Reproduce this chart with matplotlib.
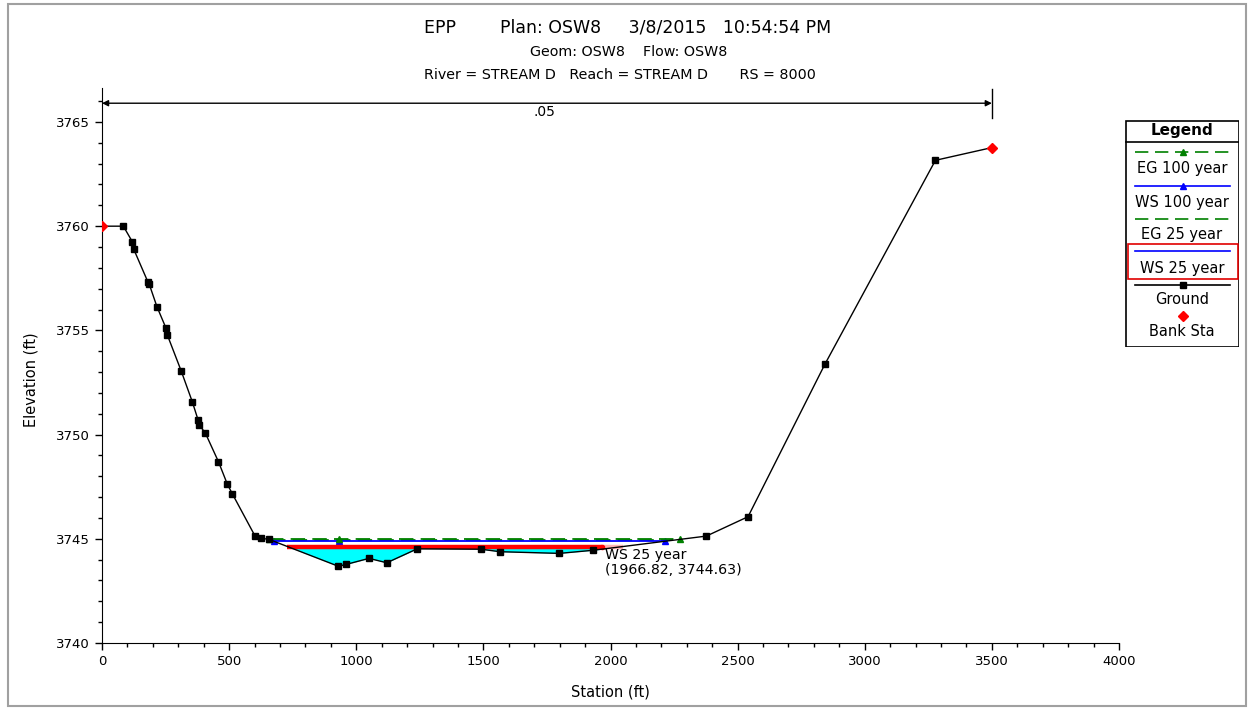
import numpy as np
import matplotlib.pyplot as plt
from matplotlib.ticker import MultipleLocator
from matplotlib.patches import Rectangle
from matplotlib.lines import Line2D

plt.rcParams['font.family'] = ['DejaVu Sans']

# Ground cross section (station ft, elevation ft)
station = [0, 84, 119, 125, 180, 186, 216, 252, 257, 311, 355, 378, 383, 407,
           458, 493, 513, 602, 625, 655, 930, 960, 1050, 1120, 1240, 1490,
           1566, 1799, 1932, 2377, 2541, 2843, 3278, 3500]
elevation = [3760.0, 3760.0, 3759.26, 3758.89, 3757.34, 3757.21, 3756.14,
             3755.10, 3754.78, 3753.07, 3751.58, 3750.70, 3750.46, 3750.06,
             3748.70, 3747.62, 3747.15, 3745.13, 3745.02, 3744.98, 3743.68,
             3743.77, 3744.06, 3743.85, 3744.52, 3744.50, 3744.38, 3744.30,
             3744.45, 3745.13, 3746.06, 3753.37, 3763.16, 3763.77]

bank_sta = [0, 3500]
bank_elev = [3760.0, 3763.77]

# water surfaces
eg_100 = 3744.97
ws_100 = 3744.88
eg_25 = 3744.93
ws_25 = 3744.63
cursor = (1966.82, 3744.63)
n_value = ".05"

sta = np.array(station, float)
elv = np.array(elevation, float)


def wet_extent(level):
    idx = np.where(elv < level)[0]
    i0, i1 = idx[0], idx[-1]
    xl = np.interp(level, [elv[i0], elv[i0 - 1]], [sta[i0], sta[i0 - 1]])
    xr = np.interp(level, [elv[i1], elv[i1 + 1]], [sta[i1], sta[i1 + 1]])
    return xl, xr


W, H = 1251, 710
fig = plt.figure(figsize=(W / 100, H / 100), dpi=100)
ax = fig.add_axes([102 / W, (H - 643) / H, (1119 - 102) / W, (643 - 88) / H])

# filled water for WS 25 year
xl, xr = wet_extent(ws_25)
xx = np.linspace(xl, xr, 600)
gz = np.interp(xx, sta, elv)
ax.fill_between(xx, gz, ws_25, where=gz < ws_25, color='#00ffff', lw=0, zorder=1)

# EG / WS lines
a, b = wet_extent(eg_25)
ax.plot([a, b], [eg_25, eg_25], color='#008000', lw=1.3, dashes=(8, 4), zorder=2)
a, b = wet_extent(ws_100)
ax.plot([a, b], [ws_100, ws_100], color='#0000ff', lw=1.3, zorder=3)
ax.plot([a, 933, b], [ws_100] * 3, ls='none', marker='^', color='#0000ff', ms=4.5, zorder=3)
a, b = wet_extent(eg_100)
ax.plot([a, b], [eg_100, eg_100], color='#008000', lw=1.3, dashes=(8, 4), zorder=4)
ax.plot([a, 933, b], [eg_100] * 3, ls='none', marker='^', color='#008000', ms=5, zorder=4)

# selected WS 25 year (highlighted)
ax.plot([xl, cursor[0]], [ws_25, ws_25], color='#ff0000', lw=3.2, solid_capstyle='butt', zorder=5)
ax.plot([cursor[0], xr], [ws_25, ws_25], color='#ffb4b4', lw=3.2, solid_capstyle='butt', zorder=5)
ax.plot([cursor[0]], [cursor[1]], 'o', color='#ff0000', ms=3, zorder=6)

# ground (bank points get the red marker instead)
not_bank = [i for i, s in enumerate(station) if s not in bank_sta]
ax.plot(sta, elv, color='black', lw=1.0, marker='s', ms=4.6, markevery=not_bank, zorder=6)
ax.plot(bank_sta, bank_elev, ls='none', marker='D', color='#ff0000', ms=5, zorder=7)

# cursor readout
ax.text(cursor[0] + 12, cursor[1] - 0.05, "WS 25 year\n(%.2f, %.2f)" % cursor,
        fontsize=10.2, va='top', ha='left', linespacing=1.1, zorder=8)

# Manning's n span arrow
y_arr = 3765.9
ax.annotate('', xy=(0, y_arr), xytext=(bank_sta[1], y_arr),
            arrowprops=dict(arrowstyle='<|-|>', color='black', lw=1.0,
                            mutation_scale=9, shrinkA=0, shrinkB=0), zorder=8)
ax.plot([bank_sta[1], bank_sta[1]], [3765.2, 3766.6], color='black', lw=1.0)
ax.text(sum(bank_sta) / 2 - 10, y_arr - 0.1, n_value, ha='center', va='top', fontsize=10)

ax.set_xlim(0, 4000)
ax.set_ylim(3740, 3766.63)
ax.xaxis.set_major_locator(MultipleLocator(500))
ax.yaxis.set_major_locator(MultipleLocator(5))
ax.yaxis.set_minor_locator(MultipleLocator(1))
ax.xaxis.set_minor_locator(MultipleLocator(100))
ax.tick_params(which='major', length=5, width=1, labelsize=9.5, direction='out')
ax.tick_params(which='minor', length=3, width=1, direction='out')
ax.spines['top'].set_visible(False)
ax.spines['right'].set_visible(False)
ax.set_xlabel('Station (ft)', fontsize=10.5)
ax.set_ylabel('Elevation (ft)', fontsize=10.5)
ax.xaxis.set_label_coords((610 - 102) / (1119 - 102), -(692 - 643) / (643 - 88), transform=ax.transAxes)
ax.yaxis.set_label_coords(-(102 - 31) / (1119 - 102), (643 - 380) / (643 - 88), transform=ax.transAxes)
ax.xaxis.label.set_va('center')
ax.yaxis.label.set_va('center')

# titles
fig.text(628 / W, 1 - 27 / H, "EPP        Plan: OSW8     3/8/2015   10:54:54 PM",
         ha='center', va='center', fontsize=12.5)
fig.text(629 / W, 1 - 52 / H, "Geom: OSW8    Flow: OSW8", ha='center', va='center', fontsize=10.3)
fig.text(620 / W, 1 - 75 / H, "River = STREAM D   Reach = STREAM D       RS = 8000",
         ha='center', va='center', fontsize=10.3)

# legend panel drawn in pixel units
lg = fig.add_axes([1125 / W, 1 - 347 / H, (1239 - 1125) / W, (347 - 120) / H])
lg.set_xlim(1125, 1239)
lg.set_ylim(347, 120)
lg.axis('off')
lg.add_patch(Rectangle((1125.5, 120.5), 113, 226, fill=False, ec='black', lw=1.2))
lg.plot([1125.5, 1238.5], [141.5, 141.5], color='black', lw=1.2)
lg.text(1182, 131, 'Legend', ha='center', va='center', fontsize=11, fontweight='bold')
entries = [
    ('EG 100 year', dict(color='#008000', dashes=(8, 4)), '^', '#008000', 152, 169),
    ('WS 100 year', dict(color='#0000ff'), '^', '#0000ff', 186, 202),
    ('EG 25 year', dict(color='#008000', dashes=(8, 4)), None, None, 219, 234),
    ('WS 25 year', dict(color='#0000ff'), None, None, 251, 268),
    ('Ground', dict(color='black'), 's', 'black', 285, 300),
    ('Bank Sta', None, 'D', '#ff0000', 316, 332),
]
for label, style, mk, mc, yl, yt in entries:
    if style is not None:
        lg.add_line(Line2D([1135, 1230], [yl, yl], lw=1.2, **style))
    if mk is not None:
        lg.plot([1182.5], [yl], marker=mk, color=mc, ms=5, ls='none')
    lg.text(1182, yt, label, ha='center', va='center', fontsize=10.5)
lg.add_patch(Rectangle((1127.5, 243.5), 110, 35, fill=False, ec='#e00000', lw=1.2))

# window frame
fig.add_artist(Rectangle((8 / W, 4 / H), (1246 - 8) / W, (706 - 4) / H,
                         transform=fig.transFigure, fill=False, ec='#a0a0a0', lw=1.5))

fig.savefig('out.png', dpi=100)
